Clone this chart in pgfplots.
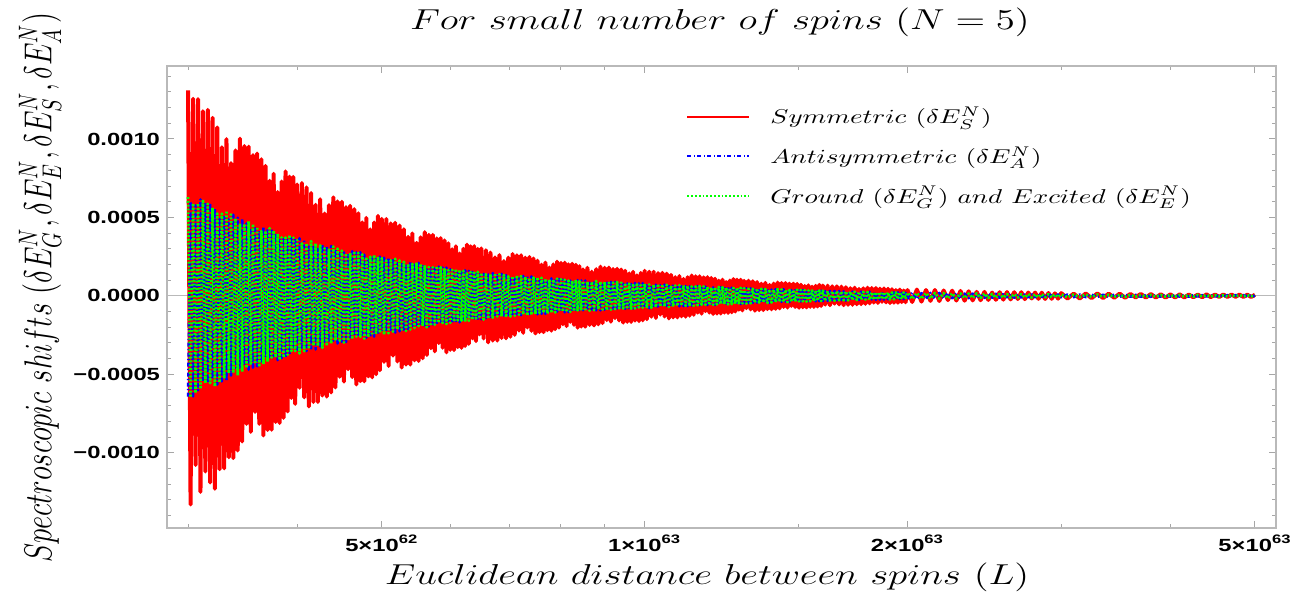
\documentclass[border=0pt]{standalone}
\usepackage{pgfplots}
\pgfplotsset{compat=1.18}
\usepackage{pgfplotstable}
\usepackage{graphicx}
\usepackage{fontspec}
\newfontfamily\tickfont{Liberation Sans}[FakeStretch=1.35]
\newcommand{\st}[1]{\scalebox{1.35}[1]{#1}}
% L in units of 1e62
\pgfplotstableread{
L r b g
3.00 13.10e-4 -6.42e-4 6.29e-4
3.02 -13.30e-4 6.03e-4 -6.48e-4
3.04 12.56e-4 -6.41e-4 5.90e-4
3.06 -10.78e-4 5.77e-4 -6.21e-4
3.08 12.54e-4 -6.02e-4 5.89e-4
3.10 -12.50e-4 6.14e-4 -5.95e-4
3.12 11.77e-4 -5.46e-4 6.13e-4
3.14 -11.20e-4 5.94e-4 -5.58e-4
3.16 11.86e-4 -5.57e-4 5.87e-4
3.18 -11.90e-4 5.92e-4 -5.56e-4
3.20 11.35e-4 -5.32e-4 5.62e-4
3.22 -12.30e-4 5.55e-4 -5.78e-4
3.24 10.73e-4 -5.65e-4 5.25e-4
3.26 -11.05e-4 5.02e-4 -5.53e-4
3.28 9.47e-4 -5.46e-4 5.24e-4
3.30 -11.00e-4 5.12e-4 -5.28e-4
3.32 9.99e-4 -5.43e-4 5.43e-4
3.34 -10.29e-4 4.88e-4 -4.93e-4
3.36 8.46e-4 -5.08e-4 5.18e-4
3.38 -10.34e-4 5.17e-4 -4.91e-4
3.40 9.27e-4 -4.58e-4 4.94e-4
3.42 -9.86e-4 4.98e-4 -5.08e-4
3.44 10.02e-4 -4.66e-4 4.61e-4
3.46 -9.29e-4 4.94e-4 -4.84e-4
3.48 9.55e-4 -4.43e-4 4.58e-4
3.50 -8.16e-4 4.61e-4 -4.61e-4
3.52 9.51e-4 -4.71e-4 4.76e-4
3.54 -8.67e-4 4.19e-4 -4.33e-4
3.56 8.97e-4 -4.58e-4 4.58e-4
3.58 -7.40e-4 4.30e-4 -4.34e-4
3.60 9.07e-4 -4.58e-4 4.40e-4
3.62 -8.16e-4 4.13e-4 -4.54e-4
3.64 8.71e-4 -4.31e-4 4.13e-4
3.66 -8.90e-4 4.41e-4 -4.36e-4
3.68 8.28e-4 -3.92e-4 4.14e-4
3.70 -8.55e-4 4.27e-4 -4.19e-4
3.72 7.34e-4 -4.02e-4 4.32e-4
3.74 -8.54e-4 4.27e-4 -3.93e-4
3.76 7.78e-4 -3.85e-4 4.15e-4
3.78 -8.04e-4 4.01e-4 -3.93e-4
3.80 6.62e-4 -4.10e-4 3.97e-4
3.82 -8.11e-4 3.65e-4 -4.10e-4
3.84 7.29e-4 -3.97e-4 3.73e-4
3.86 -7.78e-4 3.73e-4 -3.93e-4
3.88 7.93e-4 -3.96e-4 3.72e-4
3.90 -7.37e-4 3.57e-4 -3.76e-4
3.92 7.60e-4 -3.72e-4 3.88e-4
3.94 -6.51e-4 3.79e-4 -3.52e-4
3.96 7.58e-4 -3.37e-4 3.71e-4
3.98 -6.89e-4 3.67e-4 -3.52e-4
4.000 7.10e-4 -3.44e-4 3.55e-4
4.025 -5.86e-4 3.67e-4 -3.67e-4
4.050 7.19e-4 -3.30e-4 3.34e-4
4.075 -6.47e-4 3.46e-4 -3.53e-4
4.100 6.91e-4 -3.52e-4 3.35e-4
4.125 -7.05e-4 3.14e-4 -3.39e-4
4.150 6.56e-4 -3.42e-4 3.49e-4
4.175 -6.77e-4 3.22e-4 -3.18e-4
4.200 5.81e-4 -3.42e-4 3.35e-4
4.225 -6.77e-4 3.08e-4 -3.19e-4
4.250 6.16e-4 -3.22e-4 3.22e-4
4.275 -6.36e-4 3.29e-4 -3.32e-4
4.300 5.25e-4 -2.92e-4 3.02e-4
4.325 -6.43e-4 3.18e-4 -3.19e-4
4.350 5.78e-4 -2.99e-4 3.02e-4
4.375 -6.16e-4 3.18e-4 -3.05e-4
4.400 6.28e-4 -2.86e-4 3.14e-4
4.425 -5.84e-4 2.99e-4 -2.86e-4
4.450 6.02e-4 -3.04e-4 3.01e-4
4.475 -5.16e-4 2.71e-4 -2.86e-4
4.500 6.00e-4 -2.94e-4 2.88e-4
4.525 -5.47e-4 2.77e-4 -2.98e-4
4.550 5.66e-4 -2.95e-4 2.71e-4
4.575 -4.68e-4 2.67e-4 -2.87e-4
4.600 5.74e-4 -2.78e-4 2.73e-4
4.625 -5.18e-4 2.85e-4 -2.76e-4
4.650 5.53e-4 -2.54e-4 2.85e-4
4.675 -5.65e-4 2.77e-4 -2.60e-4
4.700 5.26e-4 -2.60e-4 2.74e-4
4.725 -5.44e-4 2.78e-4 -2.61e-4
4.750 4.68e-4 -2.50e-4 2.64e-4
4.775 -5.45e-4 2.62e-4 -2.73e-4
4.800 4.97e-4 -2.67e-4 2.48e-4
4.825 -5.14e-4 2.39e-4 -2.63e-4
4.850 4.24e-4 -2.60e-4 2.49e-4
4.875 -5.20e-4 2.45e-4 -2.52e-4
4.900 4.68e-4 -2.60e-4 2.60e-4
4.925 -5.00e-4 2.35e-4 -2.37e-4
4.950 5.10e-4 -2.45e-4 2.50e-4
4.975 -4.75e-4 2.50e-4 -2.38e-4
5.00 4.90e-4 -2.23e-4 2.40e-4
5.03 -4.21e-4 2.43e-4 -2.48e-4
5.06 4.90e-4 -2.28e-4 2.25e-4
5.09 -4.47e-4 2.43e-4 -2.38e-4
5.12 4.62e-4 -2.18e-4 2.26e-4
5.15 -3.81e-4 2.28e-4 -2.28e-4
5.18 4.66e-4 -2.34e-4 2.36e-4
5.21 -4.19e-4 2.07e-4 -2.14e-4
5.24 4.48e-4 -2.26e-4 2.26e-4
5.27 -4.57e-4 2.12e-4 -2.14e-4
5.30 4.25e-4 -2.26e-4 2.17e-4
5.33 -4.38e-4 2.04e-4 -2.24e-4
5.36 3.76e-4 -2.12e-4 2.03e-4
5.39 -4.38e-4 2.17e-4 -2.15e-4
5.42 3.98e-4 -1.92e-4 2.03e-4
5.45 -4.11e-4 2.10e-4 -2.05e-4
5.48 3.38e-4 -1.97e-4 2.12e-4
5.51 -4.15e-4 2.10e-4 -1.93e-4
5.54 3.73e-4 -1.88e-4 2.03e-4
5.57 -3.98e-4 1.97e-4 -1.93e-4
5.60 4.06e-4 -2.01e-4 1.95e-4
5.63 -3.77e-4 1.79e-4 -2.01e-4
5.66 3.89e-4 -1.95e-4 1.83e-4
5.69 -3.34e-4 1.83e-4 -1.93e-4
5.72 3.89e-4 -1.94e-4 1.82e-4
5.75 -3.54e-4 1.75e-4 -1.84e-4
5.78 3.66e-4 -1.82e-4 1.90e-4
5.81 -3.01e-4 1.86e-4 -1.73e-4
5.84 3.68e-4 -1.66e-4 1.82e-4
5.87 -3.31e-4 1.80e-4 -1.73e-4
5.90 3.53e-4 -1.69e-4 1.75e-4
5.93 -3.60e-4 1.80e-4 -1.80e-4
5.96 3.35e-4 -1.62e-4 1.64e-4
5.99 -3.44e-4 1.69e-4 -1.72e-4
6.02 2.97e-4 -1.73e-4 1.65e-4
6.05 -3.46e-4 1.54e-4 -1.66e-4
6.08 3.16e-4 -1.69e-4 1.72e-4
6.11 -3.27e-4 1.58e-4 -1.56e-4
6.14 2.70e-4 -1.69e-4 1.66e-4
6.17 -3.32e-4 1.53e-4 -1.58e-4
6.20 3.00e-4 -1.59e-4 1.59e-4
6.23 -3.20e-4 1.63e-4 -1.65e-4
6.26 3.27e-4 -1.46e-4 1.51e-4
6.29 -3.06e-4 1.59e-4 -1.59e-4
6.32 3.16e-4 -1.50e-4 1.51e-4
6.35 -2.71e-4 1.60e-4 -1.54e-4
6.38 3.17e-4 -1.44e-4 1.58e-4
6.41 -2.89e-4 1.51e-4 -1.44e-4
6.44 2.99e-4 -1.54e-4 1.53e-4
6.47 -2.46e-4 1.37e-4 -1.45e-4
6.50 3.02e-4 -1.50e-4 1.47e-4
6.54 -2.72e-4 1.40e-4 -1.51e-4
6.58 2.91e-4 -1.50e-4 1.38e-4
6.62 -2.97e-4 1.36e-4 -1.46e-4
6.66 2.76e-4 -1.41e-4 1.38e-4
6.70 -2.85e-4 1.45e-4 -1.40e-4
6.74 2.45e-4 -1.28e-4 1.44e-4
6.78 -2.85e-4 1.40e-4 -1.32e-4
6.82 2.60e-4 -1.31e-4 1.38e-4
6.86 -2.69e-4 1.40e-4 -1.32e-4
6.90 2.22e-4 -1.26e-4 1.33e-4
6.94 -2.71e-4 1.32e-4 -1.37e-4
6.98 2.44e-4 -1.35e-4 1.25e-4
7.02 -2.61e-4 1.20e-4 -1.32e-4
7.06 2.67e-4 -1.31e-4 1.26e-4
7.10 -2.49e-4 1.23e-4 -1.27e-4
7.14 2.58e-4 -1.31e-4 1.31e-4
7.18 -2.22e-4 1.18e-4 -1.20e-4
7.22 2.59e-4 -1.24e-4 1.26e-4
7.26 -2.36e-4 1.27e-4 -1.20e-4
7.30 2.44e-4 -1.13e-4 1.22e-4
7.34 -2.02e-4 1.23e-4 -1.26e-4
7.38 2.48e-4 -1.16e-4 1.15e-4
7.42 -2.23e-4 1.24e-4 -1.22e-4
7.46 2.38e-4 -1.12e-4 1.16e-4
7.50 -2.40e-4 1.15e-4 -1.15e-4
7.54 2.24e-4 -1.18e-4 1.19e-4
7.58 -2.31e-4 1.05e-4 -1.09e-4
7.62 1.99e-4 -1.15e-4 1.15e-4
7.66 -2.32e-4 1.08e-4 -1.09e-4
7.70 2.12e-4 -1.15e-4 1.10e-4
7.74 -2.19e-4 1.04e-4 -1.14e-4
7.78 1.81e-4 -1.08e-4 1.04e-4
7.82 -2.22e-4 1.11e-4 -1.10e-4
7.86 2.00e-4 -0.99e-4 1.04e-4
7.90 -2.13e-4 1.08e-4 -1.06e-4
7.94 2.18e-4 -1.01e-4 1.09e-4
7.98 -2.03e-4 1.08e-4 -0.99e-4
8.02 2.10e-4 -0.97e-4 1.05e-4
8.06 -1.81e-4 1.03e-4 -1.01e-4
8.10 2.12e-4 -1.05e-4 1.02e-4
8.14 -1.93e-4 0.93e-4 -1.05e-4
8.18 2.01e-4 -1.03e-4 0.97e-4
8.22 -1.66e-4 0.97e-4 -1.02e-4
8.26 2.05e-4 -1.03e-4 0.97e-4
8.30 -1.85e-4 0.94e-4 -0.99e-4
8.34 1.98e-4 -0.98e-4 1.02e-4
8.38 -2.03e-4 1.00e-4 -0.93e-4
8.42 1.89e-4 -0.90e-4 0.99e-4
8.46 -1.96e-4 0.98e-4 -0.94e-4
8.50 1.68e-4 -0.92e-4 0.95e-4
8.55 -1.97e-4 0.98e-4 -0.98e-4
8.60 1.79e-4 -0.89e-4 0.90e-4
8.65 -1.86e-4 0.93e-4 -0.95e-4
8.70 1.54e-4 -0.95e-4 0.90e-4
8.75 -1.89e-4 0.85e-4 -0.91e-4
8.80 1.70e-4 -0.93e-4 0.95e-4
8.85 -1.82e-4 0.87e-4 -0.86e-4
8.90 1.86e-4 -0.93e-4 0.91e-4
8.95 -1.74e-4 0.84e-4 -0.87e-4
9.00 1.79e-4 -0.88e-4 0.88e-4
9.05 -1.55e-4 0.90e-4 -0.91e-4
9.10 1.80e-4 -0.80e-4 0.83e-4
9.15 -1.65e-4 0.88e-4 -0.88e-4
9.20 1.71e-4 -0.83e-4 0.84e-4
9.25 -1.42e-4 0.88e-4 -0.85e-4
9.30 1.73e-4 -0.80e-4 0.88e-4
9.35 -1.57e-4 0.84e-4 -0.80e-4
9.40 1.68e-4 -0.85e-4 0.84e-4
9.45 -1.71e-4 0.77e-4 -0.81e-4
9.50 1.60e-4 -0.83e-4 0.82e-4
9.55 -1.66e-4 0.79e-4 -0.85e-4
9.60 1.43e-4 -0.84e-4 0.77e-4
9.65 -1.67e-4 0.76e-4 -0.82e-4
9.70 1.53e-4 -0.80e-4 0.78e-4
9.75 -1.58e-4 0.82e-4 -0.80e-4
9.80 1.31e-4 -0.73e-4 0.82e-4
9.85 -1.61e-4 0.80e-4 -0.75e-4
9.90 1.46e-4 -0.75e-4 0.79e-4
9.95 -1.56e-4 0.81e-4 -0.76e-4
10.00 1.60e-4 -0.73e-4 0.77e-4
10.06 -1.49e-4 0.76e-4 -0.79e-4
10.12 1.54e-4 -0.78e-4 0.73e-4
10.18 -1.33e-4 0.69e-4 -0.76e-4
10.24 1.54e-4 -0.75e-4 0.72e-4
10.30 -1.41e-4 0.71e-4 -0.73e-4
10.36 1.45e-4 -0.76e-4 0.76e-4
10.42 -1.20e-4 0.68e-4 -0.69e-4
10.48 1.47e-4 -0.71e-4 0.73e-4
10.54 -1.32e-4 0.72e-4 -0.69e-4
10.60 1.42e-4 -0.65e-4 0.70e-4
10.66 -1.44e-4 0.71e-4 -0.72e-4
10.72 1.34e-4 -0.66e-4 0.65e-4
10.78 -1.38e-4 0.71e-4 -0.70e-4
10.84 1.19e-4 -0.64e-4 0.66e-4
10.90 -1.38e-4 0.66e-4 -0.66e-4
10.96 1.26e-4 -0.67e-4 0.68e-4
11.02 -1.31e-4 0.61e-4 -0.63e-4
11.08 1.08e-4 -0.66e-4 0.66e-4
11.14 -1.33e-4 0.62e-4 -0.63e-4
11.20 1.19e-4 -0.66e-4 0.63e-4
11.26 -1.27e-4 0.60e-4 -0.66e-4
11.32 1.30e-4 -0.62e-4 0.60e-4
11.38 -1.21e-4 0.63e-4 -0.63e-4
11.44 1.25e-4 -0.57e-4 0.60e-4
11.50 -1.07e-4 0.62e-4 -0.60e-4
11.56 1.25e-4 -0.59e-4 0.63e-4
11.62 -1.14e-4 0.62e-4 -0.57e-4
11.68 1.18e-4 -0.56e-4 0.60e-4
11.74 -0.98e-4 0.59e-4 -0.57e-4
11.80 1.19e-4 -0.59e-4 0.58e-4
11.86 -1.07e-4 0.53e-4 -0.60e-4
11.92 1.14e-4 -0.58e-4 0.54e-4
11.98 -1.16e-4 0.54e-4 -0.57e-4
12.04 1.09e-4 -0.58e-4 0.55e-4
12.10 -1.13e-4 0.52e-4 -0.55e-4
12.16 0.97e-4 -0.55e-4 0.57e-4
12.22 -1.13e-4 0.55e-4 -0.52e-4
12.28 1.03e-4 -0.50e-4 0.55e-4
12.34 -1.07e-4 0.55e-4 -0.53e-4
12.40 0.88e-4 -0.51e-4 0.53e-4
12.46 -1.09e-4 0.55e-4 -0.55e-4
12.52 0.98e-4 -0.49e-4 0.50e-4
12.58 -1.05e-4 0.52e-4 -0.53e-4
12.64 1.07e-4 -0.52e-4 0.50e-4
12.70 -1.00e-4 0.47e-4 -0.51e-4
12.76 1.03e-4 -0.52e-4 0.53e-4
12.82 -0.88e-4 0.48e-4 -0.48e-4
12.88 1.03e-4 -0.52e-4 0.51e-4
12.94 -0.93e-4 0.46e-4 -0.48e-4
13.000 0.96e-4 -0.48e-4 0.48e-4
13.075 -0.79e-4 0.49e-4 -0.50e-4
13.150 0.97e-4 -0.44e-4 0.45e-4
13.225 -0.87e-4 0.48e-4 -0.48e-4
13.300 0.93e-4 -0.45e-4 0.45e-4
13.375 -0.95e-4 0.48e-4 -0.46e-4
13.450 0.88e-4 -0.43e-4 0.47e-4
13.525 -0.91e-4 0.45e-4 -0.43e-4
13.600 0.78e-4 -0.46e-4 0.45e-4
13.675 -0.91e-4 0.41e-4 -0.43e-4
13.750 0.83e-4 -0.44e-4 0.43e-4
13.825 -0.85e-4 0.42e-4 -0.45e-4
13.900 0.70e-4 -0.44e-4 0.40e-4
13.975 -0.86e-4 0.40e-4 -0.43e-4
14.050 0.78e-4 -0.41e-4 0.40e-4
14.125 -0.83e-4 0.43e-4 -0.41e-4
14.200 0.85e-4 -0.38e-4 0.43e-4
14.275 -0.80e-4 0.41e-4 -0.39e-4
14.350 0.82e-4 -0.39e-4 0.41e-4
14.425 -0.71e-4 0.42e-4 -0.39e-4
14.500 0.82e-4 -0.37e-4 0.39e-4
14.575 -0.75e-4 0.39e-4 -0.41e-4
14.650 0.78e-4 -0.40e-4 0.37e-4
14.725 -0.64e-4 0.36e-4 -0.39e-4
14.800 0.78e-4 -0.39e-4 0.38e-4
14.875 -0.71e-4 0.36e-4 -0.37e-4
14.950 0.76e-4 -0.39e-4 0.39e-4
15.025 -0.76e-4 0.35e-4 -0.35e-4
15.100 0.71e-4 -0.36e-4 0.37e-4
15.175 -0.73e-4 0.37e-4 -0.35e-4
15.250 0.63e-4 -0.33e-4 0.36e-4
15.325 -0.74e-4 0.36e-4 -0.37e-4
15.400 0.67e-4 -0.34e-4 0.34e-4
15.475 -0.70e-4 0.36e-4 -0.35e-4
15.550 0.58e-4 -0.33e-4 0.34e-4
15.625 -0.71e-4 0.35e-4 -0.35e-4
15.700 0.64e-4 -0.35e-4 0.35e-4
15.775 -0.68e-4 0.31e-4 -0.32e-4
15.850 0.70e-4 -0.34e-4 0.34e-4
15.925 -0.65e-4 0.33e-4 -0.33e-4
16.0 0.66e-4 -0.34e-4 0.33e-4
16.1 -0.56e-4 0.30e-4 -0.33e-4
16.2 0.65e-4 -0.32e-4 0.30e-4
16.3 -0.60e-4 0.32e-4 -0.31e-4
16.4 0.61e-4 -0.28e-4 0.30e-4
16.5 -0.50e-4 0.31e-4 -0.31e-4
16.6 0.61e-4 -0.29e-4 0.31e-4
16.7 -0.55e-4 0.31e-4 -0.28e-4
16.8 0.59e-4 -0.27e-4 0.29e-4
16.9 -0.60e-4 0.29e-4 -0.28e-4
17.0 0.55e-4 -0.30e-4 0.29e-4
17.1 -0.57e-4 0.26e-4 -0.29e-4
17.2 0.49e-4 -0.28e-4 0.27e-4
17.3 -0.57e-4 0.27e-4 -0.28e-4
17.4 0.52e-4 -0.28e-4 0.26e-4
17.5 -0.54e-4 0.25e-4 -0.27e-4
17.6 0.44e-4 -0.26e-4 0.27e-4
17.7 -0.53e-4 0.27e-4 -0.25e-4
17.8 0.48e-4 -0.24e-4 0.26e-4
17.9 -0.51e-4 0.25e-4 -0.24e-4
18.0 0.52e-4 -0.24e-4 0.25e-4
18.1 -0.48e-4 0.26e-4 -0.26e-4
18.2 0.50e-4 -0.23e-4 0.23e-4
18.3 -0.43e-4 0.24e-4 -0.25e-4
18.4 0.50e-4 -0.25e-4 0.23e-4
18.5 -0.45e-4 0.22e-4 -0.24e-4
18.6 0.46e-4 -0.24e-4 0.24e-4
18.7 -0.38e-4 0.22e-4 -0.22e-4
18.8 0.47e-4 -0.24e-4 0.23e-4
18.9 -0.42e-4 0.21e-4 -0.22e-4
19.0 0.45e-4 -0.22e-4 0.22e-4
19.1 -0.46e-4 0.23e-4 -0.23e-4
19.2 0.42e-4 -0.20e-4 0.21e-4
19.3 -0.44e-4 0.22e-4 -0.22e-4
19.4 0.37e-4 -0.20e-4 0.21e-4
19.5 -0.44e-4 0.22e-4 -0.21e-4
19.6 0.40e-4 -0.20e-4 0.22e-4
19.7 -0.40e-4 0.20e-4 -0.19e-4
19.8 0.34e-4 -0.21e-4 0.21e-4
19.9 -0.41e-4 0.19e-4 -0.20e-4
20.00 0.37e-4 -0.20e-4 0.20e-4
20.25 -0.39e-4 0.19e-4 -0.20e-4
20.50 0.40e-4 -0.20e-4 0.18e-4
20.75 -0.37e-4 0.17e-4 -0.19e-4
21.00 0.37e-4 -0.18e-4 0.18e-4
21.25 -0.32e-4 0.19e-4 -0.18e-4
21.50 0.37e-4 -0.16e-4 0.18e-4
21.75 -0.33e-4 0.18e-4 -0.17e-4
22.00 0.34e-4 -0.16e-4 0.17e-4
22.25 -0.27e-4 0.17e-4 -0.16e-4
22.50 0.33e-4 -0.15e-4 0.16e-4
22.75 -0.30e-4 0.16e-4 -0.17e-4
23.00 0.31e-4 -0.16e-4 0.15e-4
23.25 -0.31e-4 0.14e-4 -0.15e-4
23.50 0.29e-4 -0.15e-4 0.14e-4
23.75 -0.29e-4 0.14e-4 -0.14e-4
24.00 0.25e-4 -0.15e-4 0.15e-4
24.25 -0.28e-4 0.13e-4 -0.13e-4
24.50 0.25e-4 -0.13e-4 0.14e-4
24.75 -0.26e-4 0.13e-4 -0.13e-4
25.00 0.21e-4 -0.12e-4 0.12e-4
25.25 -0.25e-4 0.13e-4 -0.13e-4
25.50 0.23e-4 -0.12e-4 0.12e-4
25.75 -0.24e-4 0.12e-4 -0.12e-4
26.00 0.24e-4 -0.11e-4 0.11e-4
26.25 -0.23e-4 0.12e-4 -0.12e-4
26.50 0.23e-4 -0.12e-4 0.12e-4
26.75 -0.20e-4 0.10e-4 -0.11e-4
27.00 0.23e-4 -0.11e-4 0.11e-4
27.25 -0.21e-4 0.10e-4 -0.11e-4
27.50 0.21e-4 -0.11e-4 0.11e-4
27.75 -0.17e-4 0.10e-4 -0.11e-4
28.00 0.21e-4 -0.10e-4 0.10e-4
28.25 -0.19e-4 0.10e-4 -0.10e-4
28.50 0.20e-4 -0.09e-4 0.10e-4
28.75 -0.20e-4 0.10e-4 -0.10e-4
29.00 0.18e-4 -0.09e-4 0.10e-4
29.25 -0.19e-4 0.10e-4 -0.09e-4
29.50 0.16e-4 -0.09e-4 0.09e-4
29.75 -0.18e-4 0.09e-4 -0.09e-4
30.0 0.17e-4 -0.09e-4 0.09e-4
30.5 -0.17e-4 0.08e-4 -0.09e-4
31.0 0.14e-4 -0.08e-4 0.08e-4
31.5 -0.17e-4 0.08e-4 -0.08e-4
32.0 0.15e-4 -0.08e-4 0.08e-4
32.5 -0.15e-4 0.07e-4 -0.08e-4
33.0 0.15e-4 -0.07e-4 0.08e-4
33.5 -0.14e-4 0.07e-4 -0.07e-4
34.0 0.14e-4 -0.06e-4 0.07e-4
34.5 -0.12e-4 0.07e-4 -0.07e-4
35.0 0.14e-4 -0.06e-4 0.07e-4
35.5 -0.12e-4 0.07e-4 -0.07e-4
36.0 0.12e-4 -0.06e-4 0.06e-4
36.5 -0.10e-4 0.06e-4 -0.06e-4
37.0 0.12e-4 -0.06e-4 0.06e-4
37.5 -0.11e-4 0.05e-4 -0.06e-4
38.0 0.11e-4 -0.06e-4 0.06e-4
38.5 -0.11e-4 0.05e-4 -0.05e-4
39.0 0.10e-4 -0.06e-4 0.05e-4
39.5 -0.11e-4 0.05e-4 -0.05e-4
40.0 0.09e-4 -0.05e-4 0.05e-4
40.5 -0.10e-4 0.05e-4 -0.05e-4
41.0 0.09e-4 -0.05e-4 0.05e-4
41.5 -0.10e-4 0.05e-4 -0.05e-4
42.0 0.08e-4 -0.05e-4 0.05e-4
42.5 -0.09e-4 0.05e-4 -0.05e-4
43.0 0.08e-4 -0.04e-4 0.05e-4
43.5 -0.09e-4 0.04e-4 -0.04e-4
44.0 0.09e-4 -0.04e-4 0.04e-4
44.5 -0.08e-4 0.04e-4 -0.04e-4
45.0 0.08e-4 -0.04e-4 0.04e-4
45.5 -0.07e-4 0.04e-4 -0.04e-4
46.0 0.08e-4 -0.04e-4 0.04e-4
46.5 -0.07e-4 0.04e-4 -0.04e-4
47.0 0.08e-4 -0.04e-4 0.04e-4
47.5 -0.06e-4 0.04e-4 -0.04e-4
48.0 0.08e-4 -0.03e-4 0.04e-4
48.5 -0.07e-4 0.04e-4 -0.03e-4
49.0 0.07e-4 -0.03e-4 0.04e-4
49.5 -0.07e-4 0.04e-4 -0.03e-4
50.0 0.07e-4 -0.03e-4 0.03e-4
}\datatab

\begin{document}
\begin{tikzpicture}
\useasboundingbox (-83.5pt,-31.5pt) rectangle (567pt,264pt);
\begin{axis}[
  at={(0,0)}, anchor=south west,
  scale only axis, width=554.5pt, height=231pt,
  xmode=log, log basis x=10,
  xmin=2.838, xmax=52.85, ymin=-0.00148, ymax=0.001465,
  axis line style={gray!55, line width=0.6pt},
  tick style={gray!70, line width=0.5pt},
  major tick length=3.5pt, minor tick length=2pt,
  tick align=inside,
  xtick={5,10,20,50},
  xticklabels={5×10\textsuperscript{62},1×10\textsuperscript{63},2×10\textsuperscript{63},5×10\textsuperscript{63}},
  minor xtick={3,4,6,7,8,9,15,30,40},
  ytick={-0.001,-0.0005,0,0.0005,0.001},
  yticklabels={−0.0010,−0.0005,0.0000,0.0005,0.0010},
  minor ytick={-0.0014,-0.0013,-0.0012,-0.0011,-0.0009,-0.0008,-0.0007,-0.0006,-0.0004,-0.0003,-0.0002,-0.0001,0.0001,0.0002,0.0003,0.0004,0.0006,0.0007,0.0008,0.0009,0.0011,0.0012,0.0013,0.0014},
  scaled y ticks=false,
  ticklabel style={font=\tickfont\bfseries\fontsize{8.8}{10}\selectfont, text=black},
  title={\st{$For\ small\ number\ of\ spins\ (N=5)$}},
  title style={at={(axis description cs:0.4986,1.069)}, anchor=center, font=\fontsize{14}{16}\selectfont},
  xlabel={\st{$Euclidean\ distance\ between\ spins\ (L)$}},
  xlabel style={at={(axis description cs:0.487,-0.106)}, anchor=center, font=\fontsize{14}{16}\selectfont},
  ylabel={\scalebox{1}[1.35]{$Spectroscopic\ shifts\ (\delta E_G^N, \delta E_E^N, \delta E_S^N, \delta E_A^N)$}},
  ylabel style={at={(axis description cs:-0.1145,0.52)}, anchor=center, font=\fontsize{14}{16}\selectfont},
  legend style={at={(axis description cs:0.468,0.917)}, anchor=north west, draw=none, fill=none,
    font=\fontsize{10.2}{12}\selectfont, row sep=8pt, inner sep=0pt,
    nodes={inner xsep=4pt, inner ysep=1pt}},
  legend cell align=left,
  legend image code/.code={\draw[#1, line width=1pt] (0pt,0pt) -- (31pt,0pt);},
]
\addplot[gray!55, line width=0.5pt, forget plot] coordinates {(2.838,0) (52.85,0)};
\addplot[red, line width=2pt, line join=round, no markers] table[x=L, y=r]{\datatab};
\addlegendentry{\hspace{6pt}\st{$Symmetric\ (\delta E_S^N)$}}
\addplot[blue, line width=1.3pt, line join=round, no markers, dash pattern=on 2pt off 1.2pt on 0.6pt off 1.2pt] table[x=L, y=b]{\datatab};
\addlegendentry{\hspace{6pt}\st{$Antisymmetric\ (\delta E_A^N)$}}
\addplot[green, line width=1.4pt, line join=round, no markers, dash pattern=on 0.9pt off 1pt] table[x=L, y=g]{\datatab};
\addlegendentry{\hspace{6pt}\st{$Ground\ (\delta E_G^N)\ and\ Excited\ (\delta E_E^N)$}}
\end{axis}
\end{tikzpicture}
\end{document}
